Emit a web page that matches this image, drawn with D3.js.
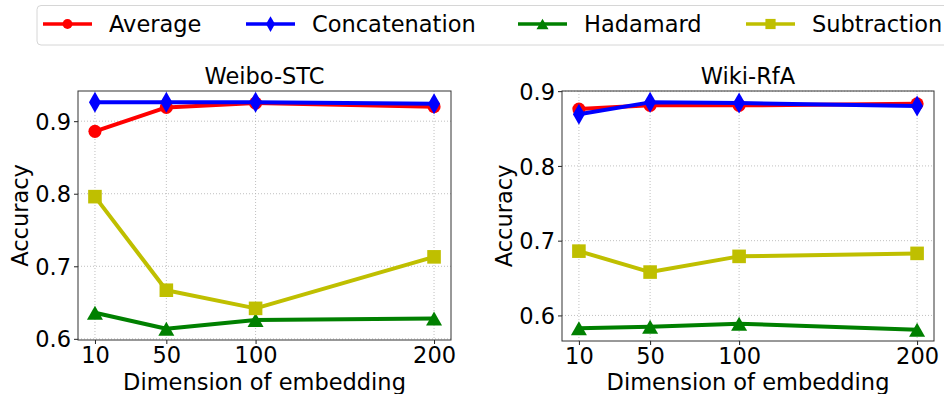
<!DOCTYPE html>
<html>
<head>
<meta charset="utf-8">
<script src="https://cdn.jsdelivr.net/npm/d3@7/dist/d3.min.js"></script>
<style>
  html, body { margin: 0; padding: 0; background: #fff; }
  svg { display: block; font-family: "DejaVu Sans", sans-serif; }
</style>
</head>
<body>
<svg id="chart" width="944" height="394"></svg>
<script>
// Embedding dimensions on the x axis
const dimensions = [10, 50, 100, 200];
const xTickLabels = ["10", "50", "100", "200"];

// Accuracy per operator, Weibo-STC
const weiboAverage       = [0.886, 0.919, 0.925, 0.920];
const weiboConcatenation = [0.926, 0.926, 0.926, 0.924];
const weiboHadamard      = [0.636, 0.614, 0.626, 0.628];
const weiboSubtraction   = [0.796, 0.667, 0.642, 0.713];
const weiboYTicks = [0.6, 0.7, 0.8, 0.9];

// Accuracy per operator, Wiki-RfA
const wikiAverage       = [0.876, 0.881, 0.881, 0.883];
const wikiConcatenation = [0.869, 0.885, 0.884, 0.880];
const wikiHadamard      = [0.583, 0.585, 0.589, 0.581];
const wikiSubtraction   = [0.686, 0.658, 0.679, 0.683];
const wikiYTicks = [0.6, 0.7, 0.8, 0.9];

const seriesNames = ["Average", "Concatenation", "Hadamard", "Subtraction"];
const seriesColors = ["#ff0000", "#0000ff", "#008000", "#bfbf00"];
const seriesMarkers = ["circle", "diamond", "triangle", "square"];

const panels = [
  { title: "Weibo-STC", series: [weiboAverage, weiboConcatenation, weiboHadamard, weiboSubtraction],
    yTicks: weiboYTicks, left: 78, right: 451, top: 91, bottom: 340 },
  { title: "Wiki-RfA", series: [wikiAverage, wikiConcatenation, wikiHadamard, wikiSubtraction],
    yTicks: wikiYTicks, left: 562, right: 934, top: 91, bottom: 341 }
];

const svg = d3.select("#chart");
const FONT = 22.5;

// padded extent, like matplotlib's default 5% margins
function padded(lo, hi) {
  const m = (hi - lo) * 0.05;
  return [lo - m, hi + m];
}

function markerPath(kind, big) {
  const s = big ? 1 : 0.75;
  if (kind === "circle") return d3.symbol(d3.symbolCircle, 135 * s * s)();
  if (kind === "square") {
    const h = 6.8 * s;
    return `M${-h},${-h}H${h}V${h}H${-h}Z`;
  }
  if (kind === "triangle") {
    const w = 8 * s, h = 7 * s;
    return `M0,${-h}L${w},${h}L${-w},${h}Z`;
  }
  // thin diamond
  const w = 6 * s, h = 10.5 * s;
  return `M0,${-h}L${w},0L0,${h}L${-w},0Z`;
}

panels.forEach(p => {
  const g = svg.append("g");
  const x = d3.scaleLinear()
    .domain(padded(d3.min(dimensions), d3.max(dimensions)))
    .range([p.left, p.right]);
  const allVals = p.series.flat();
  const y = d3.scaleLinear()
    .domain(padded(d3.min(allVals), d3.max(allVals)))
    .range([p.bottom, p.top]);

  // grid
  const grid = g.append("g").attr("stroke", "#b0b0b0").attr("stroke-width", 0.8)
    .attr("stroke-dasharray", "1,2");
  dimensions.forEach(d => grid.append("line")
    .attr("x1", x(d)).attr("x2", x(d)).attr("y1", p.top).attr("y2", p.bottom));
  p.yTicks.forEach(t => grid.append("line")
    .attr("x1", p.left).attr("x2", p.right).attr("y1", y(t)).attr("y2", y(t)));

  // axes
  const xAxis = d3.axisBottom(x).tickValues(dimensions)
    .tickFormat((d, i) => xTickLabels[i]).tickSize(4).tickPadding(3);
  const yAxis = d3.axisLeft(y).tickValues(p.yTicks)
    .tickFormat(d3.format(".1f")).tickSize(4).tickPadding(3);

  const gx = g.append("g").attr("transform", `translate(0,${p.bottom})`).call(xAxis);
  const gy = g.append("g").attr("transform", `translate(${p.left},0)`).call(yAxis);
  [gx, gy].forEach(a => {
    a.select(".domain").remove();
    a.selectAll(".tick line").attr("stroke", "#222").attr("stroke-width", 1);
    a.selectAll(".tick text").attr("font-size", FONT).attr("fill", "#000")
      .attr("font-family", "DejaVu Sans");
  });
  gy.selectAll(".tick text").attr("dy", "0.36em");

  // series
  p.series.forEach((vals, i) => {
    const pts = dimensions.map((d, j) => [x(d), y(vals[j])]);
    g.append("path").attr("d", d3.line()(pts)).attr("fill", "none")
      .attr("stroke", seriesColors[i]).attr("stroke-width", 4)
      .attr("stroke-linejoin", "round");
    g.append("g").selectAll("path").data(pts).join("path")
      .attr("transform", d => `translate(${d[0]},${d[1]})`)
      .attr("d", markerPath(seriesMarkers[i], true))
      .attr("fill", seriesColors[i]);
  });

  // frame
  g.append("rect").attr("x", p.left).attr("y", p.top)
    .attr("width", p.right - p.left).attr("height", p.bottom - p.top)
    .attr("fill", "none").attr("stroke", "#333").attr("stroke-width", 1);

  // titles and labels
  const cx = (p.left + p.right) / 2;
  g.append("text").attr("x", cx).attr("y", 84).attr("text-anchor", "middle")
    .attr("font-size", FONT).text(p.title);
  g.append("text").attr("x", cx).attr("y", 389.5).attr("text-anchor", "middle")
    .attr("font-size", FONT).text("Dimension of embedding");
  g.append("text")
    .attr("transform", `translate(${p.left - 50},${(p.top + p.bottom) / 2}) rotate(-90)`)
    .attr("text-anchor", "middle").attr("font-size", FONT).text("Accuracy");
});

// legend
const legendItemX = [43, 246, 518, 746];
const legend = svg.append("g");
legend.append("rect").attr("x", 37).attr("y", 5.5).attr("width", 930).attr("height", 39.5)
  .attr("rx", 4).attr("fill", "#fff").attr("stroke", "#d6d6d6").attr("stroke-width", 1);
seriesNames.forEach((name, i) => {
  const lx = legendItemX[i];
  legend.append("line").attr("x1", lx).attr("x2", lx + 49).attr("y1", 24).attr("y2", 24)
    .attr("stroke", seriesColors[i]).attr("stroke-width", 3.5);
  legend.append("path").attr("transform", `translate(${lx + 24.5},24)`)
    .attr("d", markerPath(seriesMarkers[i], false)).attr("fill", seriesColors[i]);
  legend.append("text").attr("x", lx + 66).attr("y", 32).attr("font-size", FONT).text(name);
});
</script>
</body>
</html>
